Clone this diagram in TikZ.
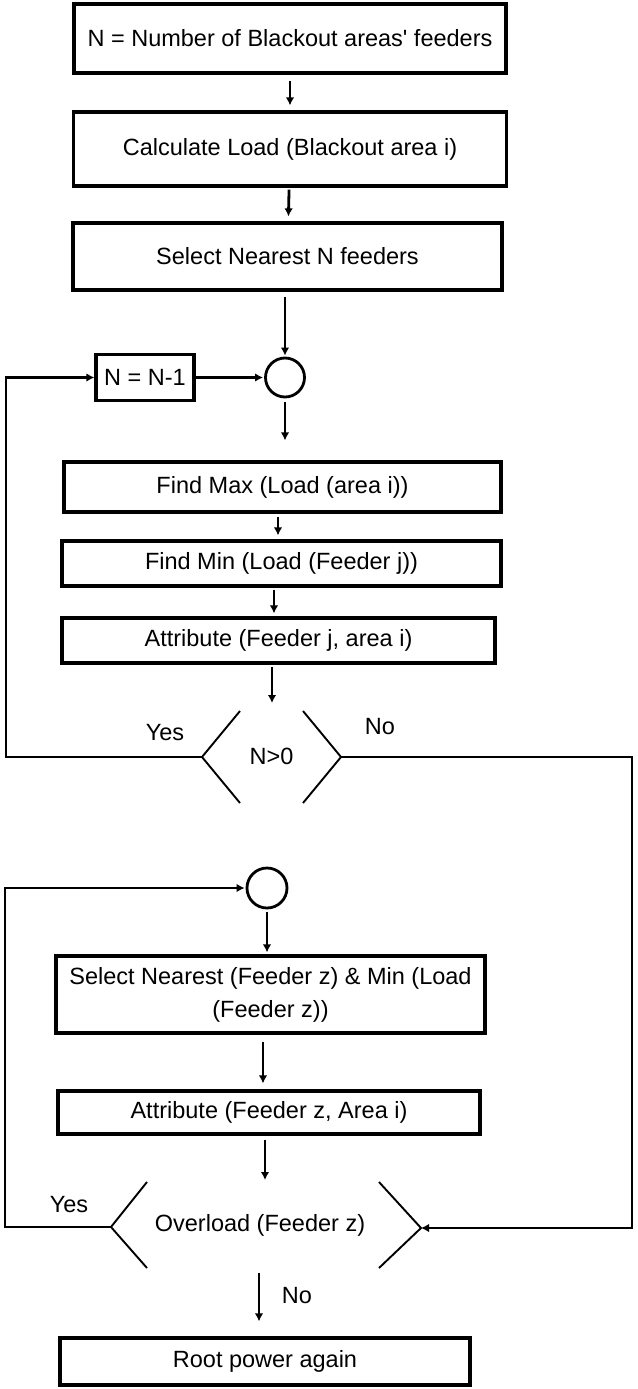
\documentclass[tikz,border=0pt]{standalone}
\usepackage{fontspec}
\setmainfont{Liberation Sans}
\usetikzlibrary{arrows.meta,calc}
\tikzset{
  base/.style={font=\fontsize{23.5}{31}\selectfont},
  box/.style={base,draw,line width=3.2pt,inner sep=0pt,align=center},
  junction/.style={draw,circle,line width=2.8pt,inner sep=0pt},
  arr/.style={line width=2.8pt,-{Latex[length=8pt,width=8.5pt]}},
  dec/.style={line width=1.9pt},
  lbl/.style={base,inner sep=0pt}
}
\begin{document}
\begin{tikzpicture}[x=1pt,y=-1pt]
\path[use as bounding box] (0,0) rectangle (637,1389);

% upper part
\node[box,minimum width=432pt,minimum height=69pt] (b1) at (290,38.5) {N = Number of Blackout areas\textquotesingle{} feeders};
\node[box,minimum width=433pt,minimum height=74pt] (b2) at (290,149) {Calculate Load (Blackout area i)};
\node[box,minimum width=429pt,minimum height=67pt] (b3) at (287.5,256.5) {Select Nearest N feeders};
\node[box,minimum width=98pt,minimum height=46pt] (nb) at (145,377.5) {N = N-1};
\node[junction,minimum size=39pt] (c1) at (285,377.5) {};
\node[box,minimum width=437pt,minimum height=50pt] (fmax) at (282.5,487) {Find Max (Load (area i))};
\node[box,minimum width=439pt,minimum height=45pt] (fmin) at (281.5,563.5) {Find Min (Load (Feeder j))};
\node[box,minimum width=433pt,minimum height=45pt] (att1) at (278.5,640.5) {Attribute (Feeder j, area i)};

% decision 1
\node[lbl] (d1) at (271.5,756) {N>0};
\coordinate (d1in) at (272,703);
\coordinate (d1l) at (202,757);
\coordinate (d1r) at (341,757);
\draw[dec] (240,711) -- (d1l) -- (240,803);
\draw[dec] (303,711) -- (d1r) -- (303,803);
\node[lbl] (yes1) at (165,733) {Yes};
\node[lbl] (no1) at (380,727) {No};

% lower part
\node[junction,minimum size=40pt] (c2) at (267,888) {};
\node[box,minimum width=429pt,minimum height=77pt,font=\fontsize{23.5}{33}\selectfont] (sel) at (270.5,994.5) {Select Nearest (Feeder z) \& Min (Load\\(Feeder z))};
\node[box,minimum width=422pt,minimum height=43pt] (att2) at (269,1112.5) {Attribute (Feeder z, Area i)};

% decision 2
\node[lbl] (d2) at (260,1225) {Overload (Feeder z)};
\coordinate (d2in) at (265,1180);
\coordinate (d2l) at (111,1227);
\coordinate (d2r) at (421,1228);
\coordinate (d2out) at (259,1273);
\draw[dec] (147,1182) -- (d2l) -- (147,1268);
\draw[dec] (379,1182) -- (d2r) -- (379,1268);
\node[lbl] (yes2) at (69,1205) {Yes};
\node[lbl] (no2) at (297,1296) {No};

\node[box,minimum width=410pt,minimum height=47pt] (root) at (265,1361.5) {Root power again};

% loop corners
\coordinate (loop1) at (6,377.5);
\coordinate (loop2) at (5,888);
\coordinate (rx) at (632,1228);

% connectors
\draw[arr,shorten <=6pt,shorten >=5pt] (b1) -- (b2);
\draw[arr,shorten <=2pt,shorten >=5pt] (b2) -- (b3);
\draw[arr,shorten <=5pt,shorten >=1pt] (b3.south -| c1) -- (c1.north);
\draw[arr,shorten >=1pt] (nb.east) -- (c1.west);
\draw[arr,shorten <=4pt,shorten >=20pt] (c1.south) -- (c1.south |- fmax.north);
\draw[arr,shorten <=3pt,shorten >=4pt] ([xshift=-4.5pt]fmax.south) -- ([xshift=-4.5pt]fmax.south |- fmin.north);
\draw[arr,shorten <=2pt,shorten >=3pt] ([xshift=-7.5pt]fmin.south) -- ([xshift=-7.5pt]fmin.south |- att1.north);
\draw[arr,shorten <=2pt] ([xshift=-6.5pt]att1.south) -- (d1in);
\draw[arr] (d1l) -| (loop1) -- (nb.west);
\draw[arr] (d1r) -| (rx) -- (d2r);
\draw[arr,shorten >=1pt] (d2l) -| (loop2) -- (c2.west);
\draw[arr,shorten <=3pt,shorten >=2pt] (c2.south) -- (c2.south |- sel.north);
\draw[arr,shorten <=7pt,shorten >=6pt] ([xshift=-7.5pt]sel.south) -- ([xshift=-7.5pt]sel.south |- att2.north);
\draw[arr,shorten <=4pt] ([xshift=-4pt]att2.south) -- (d2in);
\draw[arr,shorten >=15pt] (d2out) -- (d2out |- root.north);
\end{tikzpicture}
\end{document}
